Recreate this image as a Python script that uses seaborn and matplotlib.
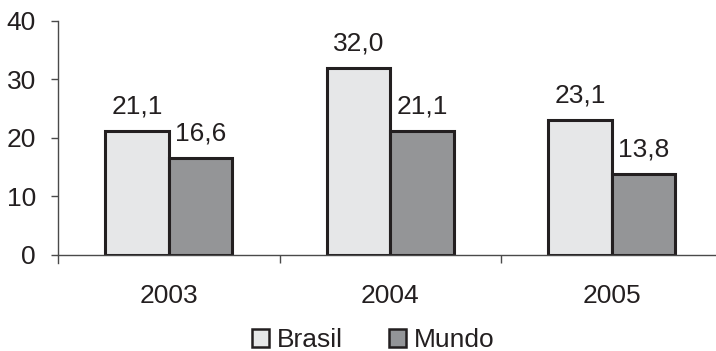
import matplotlib
matplotlib.use("Agg")
import matplotlib.pyplot as plt
import seaborn as sns
import pandas as pd
from matplotlib.patches import Patch

# Values per year
years = ["2003", "2004", "2005"]
brasil = [21.1, 32.0, 23.1]
mundo = [16.6, 21.1, 13.8]
series_names = ["Brasil", "Mundo"]
y_ticks = [0, 10, 20, 30, 40]

df = pd.DataFrame({
    "ano": years * 2,
    "valor": brasil + mundo,
    "serie": [series_names[0]] * len(years) + [series_names[1]] * len(years),
})

sns.set_theme(style="white")
plt.rcParams["font.family"] = ["Liberation Sans", "DejaVu Sans"]
ink = "#231f20"
axis_col = "#4a4a4a"
palette = {"Brasil": "#e6e7e8", "Mundo": "#939598"}
fs = 19

fig = plt.figure(figsize=(7.16, 3.51), dpi=100)
ax = fig.add_axes([58 / 716, 96 / 351, 664.75 / 716, 234.3 / 351])

sns.barplot(data=df, x="ano", y="valor", hue="serie", palette=palette,
            width=0.573, edgecolor=ink, linewidth=2.2, ax=ax, legend=False,
            errorbar=None)

ax.set_xlim(-0.5, 2.5)
ax.set_ylim(0, 40)
ax.set_yticks(y_ticks)
ax.set_xlabel("")
ax.set_ylabel("")

# value labels with decimal comma
for cont in ax.containers:
    labels = [f"{b.get_height():.1f}".replace(".", ",") for b in cont]
    ax.bar_label(cont, labels=labels, padding=9, fontsize=fs, color=ink)

for side in ("top", "right"):
    ax.spines[side].set_visible(False)
for side in ("left", "bottom"):
    ax.spines[side].set_color(axis_col)
    ax.spines[side].set_linewidth(1.0)
ax.spines["left"].set_bounds(-1.4, 40)

ax.tick_params(axis="y", which="major", direction="out", length=5,
               width=1.0, color=axis_col, pad=11, labelsize=fs,
               labelcolor=ink, left=True)
ax.tick_params(axis="x", which="major", length=0, pad=21, labelsize=fs,
               labelcolor=ink)
ax.set_xticks([0.5, 1.5], minor=True)
ax.tick_params(axis="x", which="minor", direction="out", length=6,
               width=1.0, color=axis_col, bottom=True)
ax.grid(False)

handles = [Patch(facecolor=palette[s], edgecolor=ink, linewidth=1.8, label=s)
           for s in series_names]
fig.legend(handles=handles, loc="center", bbox_to_anchor=(373 / 716, 1 - 340 / 351),
           ncol=2, frameon=False, fontsize=fs, handlelength=0.65,
           handleheight=0.65, handletextpad=0.3, columnspacing=1.75,
           borderpad=0, labelcolor=ink)

fig.savefig("out.png", dpi=100)
